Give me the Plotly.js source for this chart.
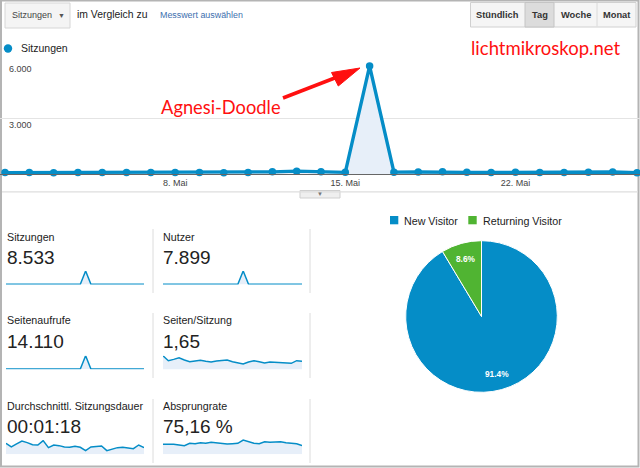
<!DOCTYPE html>
<html>
<head>
<meta charset="utf-8">
<script src="https://cdn.plot.ly/plotly-3.0.1.min.js"></script>
<style>
html,body{margin:0;padding:0;background:#fff;}
#chart{width:640px;height:468px;}
</style>
</head>
<body>
<div id="chart"></div>
<script>
// ---------- DATA ----------
const days = ['2018-05-01','2018-05-02','2018-05-03','2018-05-04','2018-05-05','2018-05-06','2018-05-07',
  '2018-05-08','2018-05-09','2018-05-10','2018-05-11','2018-05-12','2018-05-13','2018-05-14',
  '2018-05-15','2018-05-16','2018-05-17','2018-05-18','2018-05-19','2018-05-20','2018-05-21',
  '2018-05-22','2018-05-23','2018-05-24','2018-05-25','2018-05-26','2018-05-27'];
const sessions = [90,92,88,90,95,92,90,95,100,88,98,130,170,140,105,5798,115,120,130,105,100,110,92,90,105,125,80];
const users = [82,84,80,82,87,84,82,86,91,80,89,118,155,127,95,5516,104,108,117,95,90,100,84,82,95,113,73];
const pageviews = [270,187,202,235,205,169,177,200,191,157,193,264,367,258,166,8781,205,244,239,166,178,188,152,149,160,254,153];
const pagesPerSession = [3.00,2.03,2.29,2.61,2.16,1.84,1.97,2.10,1.91,1.78,1.97,2.03,2.16,1.84,1.58,1.39,1.78,2.03,1.84,1.58,1.78,1.71,1.65,1.65,1.52,2.03,1.91];
const avgDurationSec = [138,92,130,167,147,121,117,172,84,117,109,92,88,100,88,46,92,100,105,46,63,84,88,80,71,117,84];
const bounceRate = [60,62,60,56,52,66,64,70,66,72,68,64,62,64,66,86,74,66,64,76,72,74,76,70,68,64,52];

const xTickVals = ['2018-05-08','2018-05-15','2018-05-22'];
const xTickText = ['8. Mai','15. Mai','22. Mai'];
const yTickVals = [0,3000,6000];
const yTickText = ['','3.000','6.000'];

const metricLabels = ['Sitzungen','Nutzer','Seitenaufrufe','Seiten/Sitzung','Durchschnittl. Sitzungsdauer','Absprungrate'];
const metricValues = ['8.533','7.899','14.110','1,65','00:01:18','75,16 %'];

const visitorTypes = ['New Visitor','Returning Visitor'];
const visitorShares = [91.4, 8.6];

const periodButtons = ['Stündlich','Tag','Woche','Monat'];

// ---------- HELPERS ----------
const W = 640, H = 468;
const px = x => x / W;
const py = y => 1 - y / H;
const FONT = 'Liberation Sans, Arial, sans-serif';
const BLUE = '#058dc7', GREEN = '#50b432', FILL = '#e7eff9';

// ---------- TRACES ----------
const traces = [];
traces.push({
  type: 'scatter', x: days, y: sessions, xaxis: 'x', yaxis: 'y',
  mode: 'lines+markers', line: {color: BLUE, width: 3.4},
  marker: {color: BLUE, size: 7.5}, fill: 'tozeroy', fillcolor: FILL,
  cliponaxis: false, showlegend: false, hoverinfo: 'x+y'
});

const sparkSeries = [sessions, users, pageviews, pagesPerSession, avgDurationSec, bounceRate];
const sparkRanges = [[0,5798],[0,5516],[0,8781],[0.36,3.0],[0,180],[0,100]];
// sparkline boxes in pixels [x0, x1, top, bottom]
const sparkBoxes = [
  [6,144,271,284.5],[163,302,271,284.5],
  [6,144,355.7,369.3],[163,302,355.7,369.3],
  [6,144,440,454.3],[163,302,437.7,454.3]
];

const layout = {
  width: W, height: H, margin: {l:0, r:0, t:0, b:0},
  paper_bgcolor: '#fff', plot_bgcolor: 'rgba(0,0,0,0)',
  font: {family: FONT, color: '#222'},
  showlegend: false,
  xaxis: {
    type: 'date', domain: [0,1], anchor: 'y',
    range: ['2018-04-30 19:04', '2018-05-27 02:58'],
    tickvals: xTickVals, ticktext: xTickText, ticks: '',
    showgrid: false, showline: true, linecolor: '#666', linewidth: 1,
    zeroline: false, tickfont: {size: 9, color: '#444', family: FONT}, fixedrange: true
  },
  yaxis: {
    domain: [py(174.3), py(62.3)], anchor: 'x', range: [0, 6000],
    tickvals: yTickVals, ticktext: yTickText, ticks: '',
    showgrid: true, gridcolor: '#e4e4e4', gridwidth: 1.5, zeroline: false,
    ticklabelposition: 'inside bottom', ticklabelstandoff: 6,
    tickfont: {size: 9, color: '#444', family: FONT}, fixedrange: true
  },
  shapes: [], annotations: []
};

sparkSeries.forEach((s, i) => {
  const n = i + 2;
  const b = sparkBoxes[i];
  traces.push({
    type: 'scatter', x: days, y: s, xaxis: 'x' + n, yaxis: 'y' + n,
    mode: 'lines', line: {color: BLUE, width: 1.5}, fill: 'tozeroy', fillcolor: FILL,
    showlegend: false, hoverinfo: 'skip', cliponaxis: false
  });
  layout['xaxis' + n] = {
    domain: [px(b[0]), px(b[1])], anchor: 'y' + n, type: 'date',
    range: [days[0], days[days.length - 1]], visible: false, fixedrange: true
  };
  layout['yaxis' + n] = {
    domain: [py(b[3]), py(b[2])], anchor: 'x' + n, range: sparkRanges[i],
    visible: false, fixedrange: true
  };
});

// pie geometry (pixels)
const PIE = {cx: 481.5, cy: 316.5, r: 75.8};
traces.push({
  type: 'pie', labels: visitorTypes, values: visitorShares,
  marker: {colors: [BLUE, GREEN], line: {color: '#fff', width: 1}},
  sort: false, direction: 'clockwise', rotation: 0,
  textinfo: 'none',
  domain: {x: [px(PIE.cx - PIE.r), px(PIE.cx + PIE.r)], y: [py(PIE.cy + PIE.r), py(PIE.cy - PIE.r)]},
  showlegend: false, hoverinfo: 'label+percent'
});

// ---------- DECORATION ----------
const S = layout.shapes, A = layout.annotations;
function rect(x0, y0, x1, y1, fill, line, lw) {
  S.push({type: 'rect', xref: 'paper', yref: 'paper', x0: px(x0), x1: px(x1), y0: py(y0), y1: py(y1),
    fillcolor: fill, line: {color: line || 'rgba(0,0,0,0)', width: lw === undefined ? 1 : lw}, layer: 'below'});
}
function hline(x0, x1, y, color, w) {
  S.push({type: 'line', xref: 'paper', yref: 'paper', x0: px(x0), x1: px(x1), y0: py(y), y1: py(y), line: {color: color, width: w || 1}});
}
function vline(x, y0, y1, color, w) {
  S.push({type: 'line', xref: 'paper', yref: 'paper', x0: px(x), x1: px(x), y0: py(y0), y1: py(y1), line: {color: color, width: w || 1}});
}
function text(t, x, y, size, color, anchor, extra) {
  A.push(Object.assign({text: t, x: px(x), y: py(y), xref: 'paper', yref: 'paper',
    xanchor: anchor || 'left', yanchor: 'middle', showarrow: false, borderpad: 0,
    font: {size: size, color: color || '#222', family: FONT}}, extra || {}));
}

// pie percentage labels at 0.8 radius along each slice's mid-angle (clockwise from 12 o'clock)
(function () {
  const total = visitorShares.reduce((a, b) => a + b, 0);
  let start = 0;
  visitorShares.forEach(v => {
    const mid = (start + v / 2) / total * 2 * Math.PI;
    start += v;
    const lx = PIE.cx + 0.79 * PIE.r * Math.sin(mid);
    const ly = PIE.cy - 0.79 * PIE.r * Math.cos(mid);
    text('<b>' + (v / total * 100).toFixed(1) + '%</b>', lx, ly, 8.3, '#fff', 'center');
  });
})();

// outer frame
rect(1, 0.5, 638.5, 466.5, 'rgba(0,0,0,0)', '#b4b4b4', 2);

// metric dropdown
rect(5, 3, 70, 28, '#f4f4f4', '#d6d6d6', 1);
text('Sitzungen', 10.5, 15.5, 9, '#444');
text('▼', 61, 15.5, 7, '#555', 'center');
text('im Vergleich zu', 75.5, 15, 10.4, '#222');
text('Messwert auswählen', 158.5, 15, 8.9, '#3d6fae');

// period buttons
const btnEdges = [470.5, 525, 554, 597, 636];
rect(470.5, 2.5, 636, 27, '#f5f5f5', '#d0d0d0', 1);
rect(525, 2.5, 554, 27, '#dcdcdc', '#c4c4c4', 1);
vline(597, 3, 26.5, '#dadada', 1);
periodButtons.forEach((b, i) => {
  text('<b>' + b + '</b>', (btnEdges[i] + btnEdges[i + 1]) / 2, 15, 9.3, '#333', 'center');
});

// main legend
S.push({type: 'circle', xref: 'paper', yref: 'paper', x0: px(3.8), x1: px(12.2), y0: py(52.7), y1: py(44.3),
  fillcolor: BLUE, line: {width: 0}});
text('Sitzungen', 19.5, 48.5, 10.5, '#222');

// red notes
text('lichtmikroskop.net', 470, 48.5, 18.5, '#ff1010', 'left', {font: {size: 18.5, color: '#ff1010', family: 'Lato, Open Sans, sans-serif'}});
text('Agnesi-Doodle', 160, 107.5, 18.3, '#ff1010', 'left', {font: {size: 18.3, color: '#ff1010', family: 'Lato, Open Sans, sans-serif'}});
// arrow: shaft + head
S.push({type: 'line', xref: 'paper', yref: 'paper', x0: px(283), y0: py(98), x1: px(336), y1: py(77.5),
  line: {color: '#ff1010', width: 3.5}});
S.push({type: 'path', xref: 'paper', yref: 'paper',
  path: 'M ' + px(360) + ',' + py(68) + ' L ' + px(338.3) + ',' + py(86) + ' L ' + px(331.5) + ',' + py(72.5) + ' Z',
  fillcolor: '#ff1010', line: {color: '#ff1010', width: 1}});

// separator under the chart + handle
hline(2, 638, 191.8, '#dedede', 1.2);
rect(300, 190.5, 340, 198, '#efefef', '#cfcfcf', 1);
text('▼', 320, 194, 6, '#777', 'center');

// scorecards
const colX = [6, 162];
const labelY = [237, 320, 406];
const valueY = [257, 341, 426];
metricLabels.forEach((m, i) => {
  const c = i % 2, r = Math.floor(i / 2);
  text(m, colX[c], labelY[r], 10.7, '#222');
  text(metricValues[i], colX[c] - 0.5, valueY[r], 19, '#222');
});
[[229, 293], [313, 378], [399, 463]].forEach(([a, b]) => {
  vline(153, a, b, '#dcdcdc', 1);
  vline(310, a, b, '#dcdcdc', 1);
});

// pie legend
rect(390, 216, 398.3, 224.3, BLUE, null, 0);
rect(468.3, 216, 476.7, 224.3, GREEN, null, 0);
text(visitorTypes[0], 402.5, 220.5, 10.7, '#222');
text(visitorTypes[1], 481.5, 220.5, 10.7, '#222');

Plotly.newPlot('chart', traces, layout, {displayModeBar: false, staticPlot: true});
</script>
</body>
</html>
